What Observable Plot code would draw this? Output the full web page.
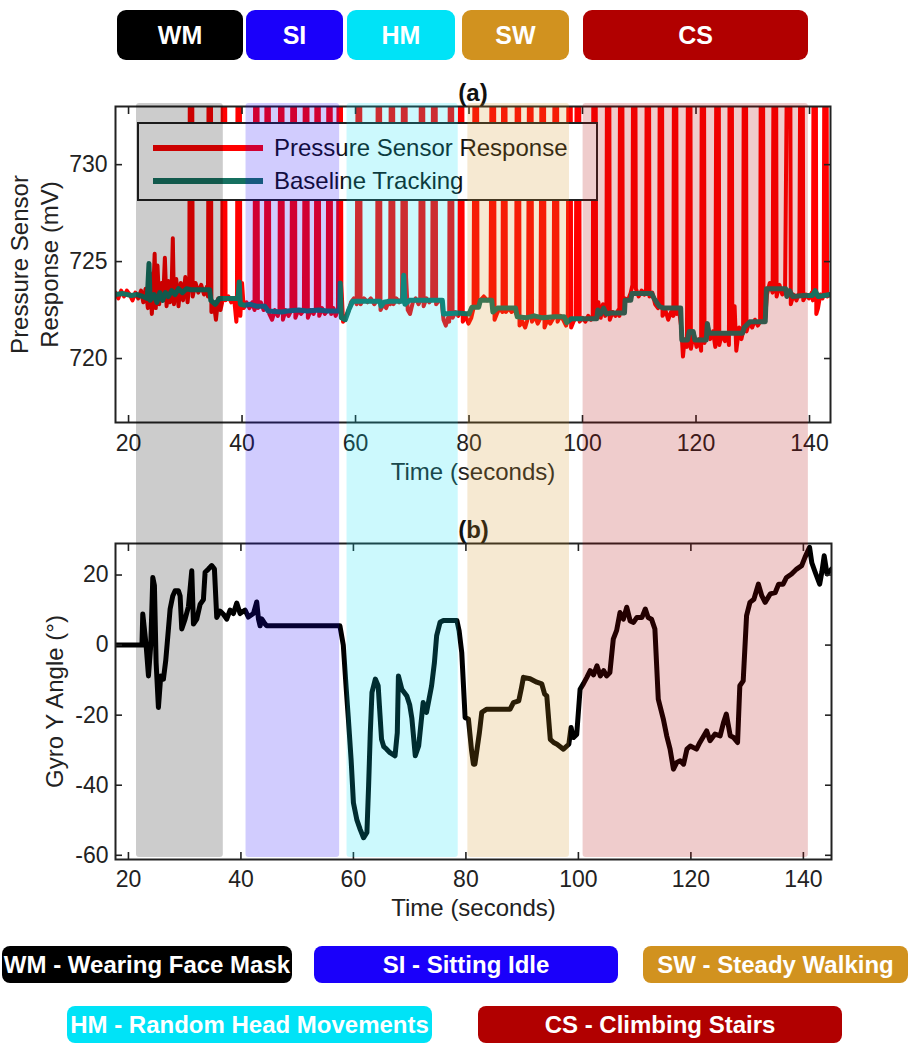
<!DOCTYPE html>
<html>
<head>
<meta charset="utf-8">
<script src="https://cdn.jsdelivr.net/npm/d3@7"></script>
<script src="https://cdn.jsdelivr.net/npm/@observablehq/plot@0.6"></script>
<style>
  body { margin: 0; background: #fff; }
  #fig { position: relative; width: 918px; height: 1050px; overflow: hidden;
         font-family: "Liberation Sans", Arial, Helvetica, sans-serif; background: #fff; }
  .box { position: absolute; display: flex; align-items: center; justify-content: center;
         color: #fff; font-weight: bold; box-sizing: border-box; white-space: nowrap; }
</style>
</head>
<body>
<div id="fig"></div>
<script>
// ---------------- DATA ----------------
const activityCodes  = ["WM", "SI", "HM", "SW", "CS"];
const activityNames  = ["Wearing Face Mask", "Sitting Idle", "Random Head Movements", "Steady Walking", "Climbing Stairs"];
const activityColors = ["#000000", "#1a00fa", "#00e3f7", "#d1921f", "#b10000"];
const bandStart = [21.4, 40.7, 58.5, 79.8, 100.1];   // seconds
const bandEnd   = [36.7, 57.2, 78.1, 97.7, 139.8];

const xTicks        = [20, 40, 60, 80, 100, 120, 140];
const pressureTicks = [720, 725, 730];
const gyroTicks     = [-60, -40, -20, 0, 20];

const seriesNames = ["Pressure Sensor Response", "Baseline Tracking"];

// [time (s), mV]
const pressureResponse = [
[17.7,723.4],[18.2,723.1],[18.7,723.5],[19.2,723.2],[19.7,723.5],[20.2,723.3],[20.7,723.0],[21.2,723.4],[21.7,723.1],[22.2,723.5],[22.6,722.9],[23.0,723.6],[23.4,722.6],[23.8,724.4],[24.1,722.3],[24.4,723.8],[24.6,725.4],[24.8,722.6],[25.1,724.8],[25.4,722.8],[25.8,723.9],[26.1,723.0],[26.4,725.2],[26.7,722.7],[27.0,724.0],[27.3,722.9],[27.6,723.7],[27.8,726.2],[28.0,722.8],[28.4,724.1],[28.8,722.7],[29.2,723.9],[29.6,723.0],[30.0,724.2],[30.4,722.9],[30.7,723.8],
[30.9,745],[31.15,745],[31.3,723.2],[31.8,723.9],[32.3,723.4],[32.8,723.8],[33.3,723.3],[33.8,723.7],[34.0,723.2],
[34.2,745],[34.45,745],[34.6,722.4],[35.0,722.9],[35.4,722.0],[35.8,723.1],[36.2,722.5],[36.5,722.9],
[36.7,745],[36.95,745],[37.1,723.0],[37.6,723.2],[38.1,722.9],[38.6,723.1],[39.0,721.9],[39.1,722.6],
[39.3,745],[39.55,745],[39.7,722.2],[40.0,723.9],[40.3,722.6],[40.8,722.9],[41.3,722.6],[41.8,722.9],[42.2,722.5],
[42.4,745],[42.65,745],[42.8,722.6],[43.3,722.9],[43.8,722.5],[44.2,722.8],
[44.4,745],[44.65,745],[44.8,722.3],[45.3,722.0],[45.8,722.5],[46.3,722.2],[46.6,722.5],
[46.8,745],[47.05,745],[47.2,722.0],[47.7,722.5],[48.2,722.2],[48.7,722.5],
[49.0,745],[49.25,745],[49.4,722.1],[49.9,722.5],[50.4,722.3],[50.9,722.5],
[51.2,745],[51.45,745],[51.6,722.1],[52.1,722.5],[52.6,722.3],[53.0,722.6],
[53.2,745],[53.45,745],[53.6,722.2],[54.1,722.6],[54.6,722.3],[55.1,722.5],
[55.3,745],[55.55,745],[55.7,722.3],[56.1,722.6],[56.5,722.2],[56.9,722.5],
[57.1,745],[57.35,745],[57.5,723.8],[57.8,721.9],[58.2,722.1],[58.7,722.4],[59.2,722.9],[59.7,723.1],[60.2,722.8],
[60.5,745],[60.75,745],[60.9,722.8],[61.5,723.1],[62.1,722.9],[62.7,723.1],[63.3,722.8],[63.8,723.0],
[64.0,745],[64.25,745],[64.4,722.5],[64.9,722.8],[65.4,722.6],[65.9,723.0],[66.1,722.8],
[66.3,745],[66.55,745],[66.7,722.8],[67.2,723.1],[67.7,722.9],[68.2,723.1],
[68.5,745],[68.75,745],[68.9,724.2],[69.2,722.5],[69.6,722.3],[70.1,722.9],[70.6,723.1],[71.1,722.8],[71.4,723.0],
[71.6,745],[71.85,745],[72.0,722.7],[72.5,723.1],[73.0,722.9],[73.5,723.1],
[73.8,745],[74.05,745],[74.2,722.8],[74.7,723.0],[75.2,722.9],[75.5,722.0],[75.9,721.7],[76.3,722.1],[76.5,721.9],
[76.7,745],[76.95,745],[77.1,722.1],[77.6,722.4],[78.1,722.2],[78.3,722.4],
[78.5,745],[78.75,745],[78.9,721.9],[79.4,722.2],[79.9,721.8],[80.4,722.1],[80.8,722.6],
[81.1,745],[81.35,745],[81.5,722.7],[82.0,723.0],[82.6,723.2],[83.2,723.0],[83.8,723.1],
[84.1,745],[84.35,745],[84.5,722.0],[84.9,722.3],[85.4,722.6],[85.9,722.4],
[86.1,745],[86.35,745],[86.5,722.4],[87.0,722.6],[87.5,722.4],[88.0,722.6],[88.3,722.3],
[88.5,745],[88.75,745],[88.9,721.7],[89.4,721.9],[89.9,721.6],[90.4,722.1],
[90.7,745],[90.95,745],[91.1,721.9],[91.6,722.2],[92.1,721.8],[92.6,722.1],
[92.9,745],[93.15,745],[93.3,721.6],[93.8,722.0],[94.3,721.8],[94.9,722.1],
[95.2,745],[95.45,745],[95.6,721.9],[96.1,722.2],[96.6,722.0],[97.1,721.7],[97.4,722.0],
[97.6,745],[97.85,745],[98.0,721.6],[98.4,721.9],[98.8,722.1],
[99.1,745],[99.35,745],[99.5,721.9],[100.0,722.1],[100.5,721.9],[101.0,722.2],[101.5,722.0],[101.8,722.2],
[102.0,745],[102.25,745],[102.4,722.2],[102.8,722.9],[103.2,722.1],[103.6,722.8],[104.0,722.2],[104.2,722.6],
[104.4,745],[104.65,745],[104.8,722.0],[105.3,722.4],[105.8,722.2],[106.3,722.5],[106.5,722.2],
[106.7,745],[106.95,745],[107.1,722.4],[107.5,723.1],[108.0,723.0],[108.5,723.4],[108.8,723.8],
[109.0,745],[109.25,745],[109.4,723.6],[109.9,723.2],[110.4,723.5],[110.9,723.3],[111.2,723.6],
[111.4,745],[111.65,745],[111.8,723.2],[112.3,723.4],[112.8,722.8],[113.3,722.6],[113.5,722.8],
[113.7,745],[113.95,745],[114.1,722.2],[114.6,722.5],[115.1,722.0],[115.6,722.4],[116.0,722.2],
[116.2,745],[116.45,745],[116.6,722.3],[117.0,722.5],[117.4,721.6],[117.7,720.1],[118.0,721.0],[118.4,720.6],
[118.7,745],[118.95,745],[119.1,720.5],[119.6,721.3],[120.1,720.6],[120.6,721.0],[120.9,720.4],
[121.1,745],[121.35,745],[121.5,720.8],[122.0,721.8],[122.5,721.0],[123.0,721.4],[123.4,720.6],
[123.7,745],[123.95,745],[124.1,720.7],[124.6,721.3],[125.1,720.9],[125.6,721.3],[125.8,720.7],
[126.0,745],[126.25,745],[126.4,721.5],[126.8,722.7],[127.1,720.4],[127.6,721.6],[128.0,721.0],[128.3,721.4],
[128.5,745],[128.75,745],[128.9,721.4],[129.4,721.9],[129.9,721.6],[130.4,722.0],[130.9,721.7],[131.3,721.9],
[131.5,745],[131.75,745],[131.9,721.9],[132.2,722.1],[132.5,723.3],[133.0,723.9],[133.5,723.4],
[133.8,745],[134.05,745],[134.2,723.2],[134.7,723.8],[135.2,723.3],[135.7,723.7],
[136.3,745],[136.55,745],[136.7,722.8],[137.2,723.3],[137.7,723.0],[138.2,723.4],
[138.5,745],[138.75,745],[138.9,723.0],[139.4,723.3],[139.9,723.1],[140.4,723.4],[140.6,723.0],
[140.8,745],[141.05,745],[141.2,722.3],[141.5,722.6],[141.9,723.3],[142.3,723.1],[142.5,723.4],
[142.7,745],[142.95,745],[143.1,723.2],[143.7,723.3]
];

// [time (s), mV]
const baselineTracking = [
[17.7,723.3],[19,723.35],[20.5,723.25],[21.5,723.3],[22.5,723.2],[23.3,723.1],[23.6,724.9],[23.8,723.0],[24.5,723.3],[25,722.9],[25.5,723.4],[26,723.0],[26.5,723.4],[27,723.2],[27.6,723.5],[28.2,723.3],[28.8,723.6],[29.5,723.4],[30.2,723.6],[31,723.55],[34.3,723.55],[34.5,723.0],[35.3,722.8],[36,723.1],[39.3,723.1],[39.5,723.95],[39.7,722.8],[40.5,722.75],[41.5,722.8],[42.5,722.7],[44,722.7],[44.6,722.45],[47,722.4],[48,722.45],[50,722.5],[51.5,722.45],[53.5,722.5],[55,722.45],[57.2,722.45],[57.3,723.9],[57.5,722.1],[58.2,722.0],[58.8,722.5],[59.5,722.95],[64.3,722.95],[64.5,722.7],[65,722.9],[66,722.95],[68.3,722.95],[68.5,724.3],[68.7,722.8],[69.5,723.0],[75.3,723.0],[75.5,722.3],[78,722.35],[80,722.3],[80.5,722.65],[81.7,722.65],[82,723.0],[84,723.0],[84.2,722.4],[85,722.6],[88.2,722.6],[88.5,722.15],[90,722.1],[91.5,722.2],[93,722.1],[95,722.15],[96.8,722.15],[97.2,721.85],[98,722.05],[102.5,722.05],[102.7,722.5],[103.2,722.3],[103.7,722.6],[104.2,722.3],[105,722.35],[107.4,722.35],[107.5,723.0],[108.5,723.0],[108.7,723.35],[112.2,723.35],[112.6,723.1],[113.5,722.7],[114.2,722.6],[117.3,722.6],[117.5,720.95],[118.5,720.95],[118.8,721.4],[119.5,721.4],[119.8,720.95],[121.8,720.95],[122,721.8],[122.3,721.3],[123.5,721.3],[128.2,721.3],[128.5,721.6],[129.5,721.9],[132.2,721.9],[132.4,723.6],[135.8,723.6],[136,723.2],[136.5,723.5],[137,723.2],[139,723.25],[140.5,723.25],[141,723.5],[141.5,723.2],[143.7,723.3]
];

// [time (s), degrees]
const gyroAngle = [
[17.7,0],[22.4,0],[22.55,8.9],[23.14,0],[23.56,-8.8],[23.97,0],[24.33,19.3],[24.62,17],[24.92,-5],[25.33,-17.8],[25.75,-8.8],[26.22,-9.7],[26.64,-4.3],[27.11,4.6],[27.41,10.3],[27.88,14],[28.3,15.5],[28.89,15.5],[29.19,14],[29.48,4.6],[30.07,7.4],[30.67,11],[31.26,21.2],[31.56,6],[32.15,7.4],[32.74,11.6],[33.33,13],[33.63,20.8],[34.22,21.7],[34.81,22.7],[35.29,21.7],[35.7,7.9],[36.3,9.7],[36.89,8.8],[37.48,7.4],[38.07,10],[38.67,9],[39.26,12],[39.85,9],[40.74,10],[41.33,8],[42.22,9],[42.81,12.3],[43.11,7.5],[43.41,5.5],[43.7,7.5],[44.3,6],[44.59,5.5],[57.6,5.5],[58.2,0],[58.7,-12],[59.1,-21],[59.6,-33],[60.0,-45],[60.6,-49.8],[61.2,-52.6],[61.8,-55],[62.4,-53.5],[62.7,-40.2],[63.0,-25],[63.3,-13.5],[63.9,-9.7],[64.4,-11.6],[65.0,-26.9],[65.4,-29],[65.9,-29.7],[66.5,-30.7],[67.4,-31.6],[67.8,-25],[68.0,-8.8],[68.6,-12.6],[69.5,-14.5],[70.0,-17],[70.4,-21],[71.0,-31.6],[71.6,-28.8],[72.4,-16.4],[73.0,-19.2],[73.9,-11.6],[74.4,-5],[74.8,2.7],[75.4,6.5],[76.0,7],[77.2,7],[78.4,7],[78.8,4],[79.26,-2.1],[79.86,-20.7],[80.45,-21.1],[81.0,-30],[81.34,-34],[81.6,-34],[82.4,-25],[82.82,-19.2],[83.71,-18.3],[87.86,-18.3],[88.45,-16.4],[89.4,-15.9],[89.9,-12],[90.23,-9.2],[91.41,-9.6],[92.6,-10.6],[93.49,-11.1],[94.0,-14],[94.38,-14.5],[95.0,-26.9],[95.6,-27.8],[96.2,-28.3],[97.34,-29.7],[98.3,-28.3],[98.7,-23.5],[99.1,-26.4],[99.7,-25.5],[100.3,-12.6],[100.9,-11],[101.5,-9.2],[102.1,-7.3],[102.7,-8.5],[103.3,-5.9],[103.9,-8.8],[104.5,-7.3],[105.0,-8.8],[105.6,-7.8],[106.2,1.7],[106.8,4.2],[107.4,9.3],[108.0,7.4],[108.6,10.8],[109.2,6.9],[109.8,6.5],[110.4,7.9],[111.3,7.9],[111.9,10.3],[112.4,7.9],[113.0,7.4],[113.6,4.6],[114.2,-15.4],[115.1,-21.1],[115.7,-25.9],[116.3,-29.7],[116.9,-35.4],[117.5,-33.5],[118.1,-33],[118.7,-34],[119.3,-29.7],[119.9,-28.8],[121.0,-29.7],[121.6,-27.8],[122.8,-24.5],[123.4,-27.3],[124.3,-25.4],[125.2,-25.9],[125.8,-22.1],[126.3,-19.7],[127.0,-25.9],[127.6,-26.4],[128.3,-27.8],[128.7,-11.6],[129.3,-10.2],[129.9,8.4],[130.5,12.2],[131.2,13.1],[132.0,17.4],[132.6,14.1],[133.2,12.2],[134.1,14.6],[135.0,15],[135.6,17.4],[136.4,17.4],[137.0,19.3],[137.9,20.3],[138.8,21.7],[139.7,22.7],[140.3,25.1],[141.1,27.9],[141.5,23.5],[142.1,20.8],[142.9,17.4],[143.3,21],[143.7,25.5],[144.2,20.3],[145,21.7]
];

// ---------------- STYLE / LAYOUT ----------------
const FONT = '"Liberation Sans", Arial, Helvetica, sans-serif';
const W = 918;
const INK = "#222";
const RED = "#ff0000";
const GREEN = "#167060";
const fmt = d => String(d);   // plain hyphen minus, as in the original
const fig = document.getElementById("fig");

function place(el, left, top, z) {
  el.style.position = "absolute";
  el.style.left = left + "px";
  el.style.top = top + "px";
  el.style.zIndex = z;
  fig.appendChild(el);
}

// ---- top legend (codes) ----
const topBoxLayout = {WM: [117, 126], SI: [246, 97], HM: [347, 108], SW: [462, 107], CS: [583, 225]};
activityCodes.forEach((code, i) => {
  const d = document.createElement("div");
  d.className = "box";
  const [x, w] = topBoxLayout[code];
  d.style.cssText += `width:${w}px;height:50px;background:${activityColors[i]};border-radius:9px;font-size:25px;`;
  d.textContent = code;
  place(d, x, 10, 1);
});

// ---- bottom legend (full names) ----
const bottomBoxLayout = {WM: [2, 946, 290], SI: [314, 946, 304], SW: [643, 946, 265], HM: [67, 1006, 365], CS: [478, 1006, 364]};
activityCodes.forEach((code, i) => {
  const d = document.createElement("div");
  d.className = "box";
  const [x, y, w] = bottomBoxLayout[code];
  d.style.cssText += `width:${w}px;height:37px;background:${activityColors[i]};border-radius:8px;font-size:24px;`;
  d.textContent = `${code} - ${activityNames[i]}`;
  place(d, x, y, 1);
});

// ---- panel (a) ----
const plotA = Plot.plot({
  width: W, height: 420,
  marginTop: 26, marginBottom: 78, marginLeft: 115, marginRight: 88,
  style: {fontFamily: FONT, color: INK, background: "white", overflow: "visible"},
  x: {domain: [17.7, 143.7]},
  y: {domain: [716.7, 733]},
  marks: [
    Plot.line(pressureResponse, {x: d => d[0], y: d => d[1], stroke: RED, strokeWidth: 4, clip: true}),
    Plot.line(baselineTracking, {x: d => d[0], y: d => d[1], stroke: GREEN, strokeWidth: 5, clip: true}),
    Plot.frame({stroke: INK, strokeWidth: 2}),
    Plot.axisX(xTicks, {anchor: "bottom", tickSize: -7, tickPadding: 19, fontSize: 23, tickFormat: fmt, label: null, strokeWidth: 1.6}),
    Plot.axisX(xTicks, {anchor: "top", tickSize: -7, tickFormat: () => "", label: null, strokeWidth: 1.6}),
    Plot.axisY(pressureTicks, {anchor: "left", tickSize: -7, tickPadding: 15, fontSize: 23, tickFormat: fmt, label: null, strokeWidth: 1.6}),
    Plot.axisY(pressureTicks, {anchor: "right", tickSize: -7, tickFormat: () => "", label: null, strokeWidth: 1.6}),
    Plot.text(["Time (seconds)"], {text: d => d, frameAnchor: "bottom", lineAnchor: "middle", dy: 50, fontSize: 24, fill: INK}),
    Plot.text(["Pressure Sensor\nResponse (mV)"], {text: d => d, frameAnchor: "left", textAnchor: "middle", lineAnchor: "middle", rotate: -90, dx: -82, fontSize: 24, lineHeight: 1.22, fill: INK}),
    Plot.text(["(a)"], {text: d => d, frameAnchor: "top", lineAnchor: "middle", dy: -13, fontSize: 24, fontWeight: "bold", fill: "#111"})
  ]
});
place(plotA, 0, 80, 2);

// legend box inside (a)
const leg = document.createElement("div");
leg.style.cssText = `width:461px;height:79px;background:#fff;border:2px solid ${INK};box-sizing:border-box;font-family:${FONT};font-size:24px;color:#111;`;
[[RED, 21], [GREEN, 54]].forEach(([c, y], i) => {
  const s = document.createElement("div");
  s.style.cssText = `position:absolute;left:14px;top:${y}px;width:110px;height:6px;background:${c};`;
  leg.appendChild(s);
  const t = document.createElement("div");
  t.style.cssText = `position:absolute;left:135px;top:${y - 11}px;line-height:28px;white-space:nowrap;`;
  t.textContent = seriesNames[i];
  leg.appendChild(t);
});
place(leg, 137, 122, 3);

// ---- panel (b) ----
const plotB = Plot.plot({
  width: W, height: 400,
  marginTop: 43, marginBottom: 41, marginLeft: 115, marginRight: 87,
  style: {fontFamily: FONT, color: INK, background: "white", overflow: "visible"},
  x: {domain: [17.7, 145]},
  y: {domain: [-61.2, 29]},
  marks: [
    Plot.line(gyroAngle, {x: d => d[0], y: d => d[1], stroke: "#000", strokeWidth: 5, clip: true}),
    Plot.frame({stroke: INK, strokeWidth: 2}),
    Plot.axisX(xTicks, {anchor: "bottom", tickSize: -7, tickPadding: 18, fontSize: 23, tickFormat: fmt, label: null, strokeWidth: 1.6}),
    Plot.axisX(xTicks, {anchor: "top", tickSize: -7, tickFormat: () => "", label: null, strokeWidth: 1.6}),
    Plot.axisY(gyroTicks, {anchor: "left", tickSize: -7, tickPadding: 14, fontSize: 23, tickFormat: fmt, label: null, strokeWidth: 1.6}),
    Plot.axisY(gyroTicks, {anchor: "right", tickSize: -7, tickFormat: () => "", label: null, strokeWidth: 1.6}),
    Plot.text(["Time (seconds)"], {text: d => d, frameAnchor: "bottom", lineAnchor: "middle", dy: 49, fontSize: 24, fill: INK}),
    Plot.text(["Gyro Y Angle (°)"], {text: d => d, frameAnchor: "left", textAnchor: "middle", lineAnchor: "middle", rotate: -90, dx: -60, fontSize: 24, fill: INK}),
    Plot.text(["(b)"], {text: d => d, frameAnchor: "top", lineAnchor: "middle", dy: -13, fontSize: 24, fontWeight: "bold", fill: "#111"})
  ]
});
place(plotB, 0, 500, 2);

// ---- translucent activity bands overlaid across both panels ----
const bands = activityCodes.map((code, i) => ({code, start: bandStart[i], end: bandEnd[i], color: activityColors[i]}));
const overlay = Plot.plot({
  width: W, height: 754,
  marginTop: 0, marginBottom: 0, marginLeft: 115, marginRight: 88,
  x: {domain: [17.7, 143.7], axis: null},
  color: {type: "identity"},
  style: {background: "transparent"},
  marks: [
    Plot.rect(bands, {x1: "start", x2: "end", fill: "color", fillOpacity: 0.2, rx: 3})
  ]
});
overlay.style.background = "transparent";
overlay.style.pointerEvents = "none";
place(overlay, 0, 103, 5);
</script>
</body>
</html>
